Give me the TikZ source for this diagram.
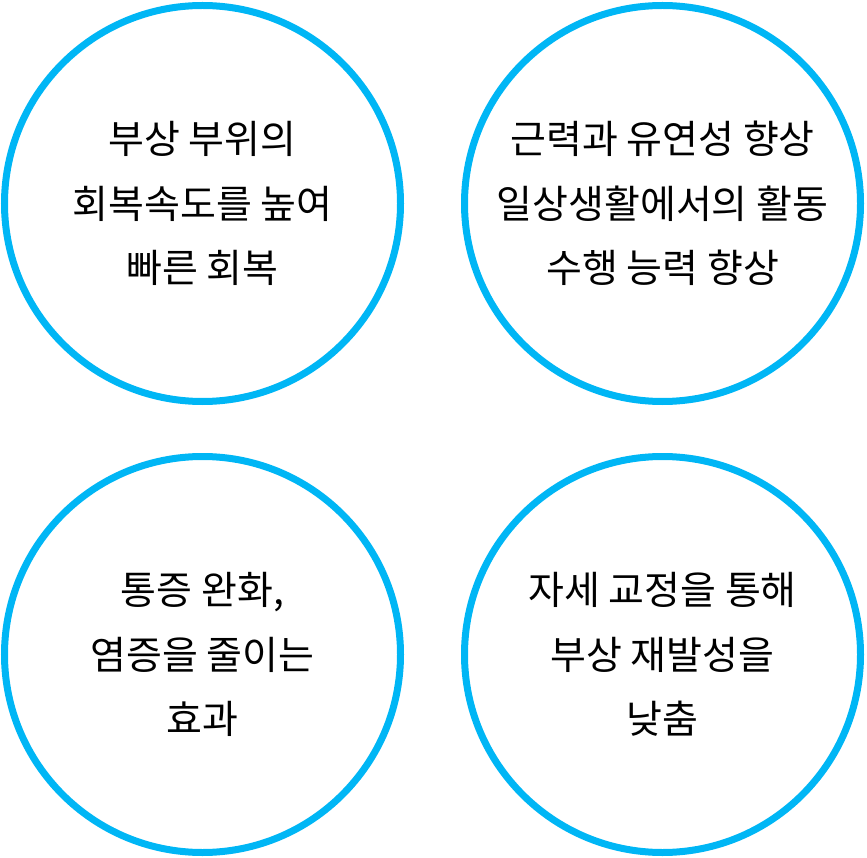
\documentclass[tikz,border=0pt]{standalone}
\usepackage{fontspec}
\setmainfont{Noto Sans CJK KR}
\definecolor{bolha}{RGB}{0,182,245}

\begin{document}
\begin{tikzpicture}[
    x=1pt, y=-1pt,
    font=\fontsize{39}{64.5}\selectfont,
    bolha/.style={circle, draw=bolha, line width=7pt, minimum size=396pt, inner sep=0, align=center, text=black}
]

% ============================================
% MARGENS
% ============================================
\useasboundingbox (0,0) rectangle (867,858);

% ============================================
% FILA SUPERIOR
% ============================================

% Círculo 1: recuperação
\node[bolha] (recuperacao) at (202.5, 203.5) {부상 부위의\\회복속도를 높여\\빠른 회복};

% Círculo 2: força e flexibilidade
\node[bolha] (forca) at (662.5, 203.5) {근력과 유연성 향상\\일상생활에서의 활동\\수행 능력 향상};

% ============================================
% FILA INFERIOR
% ============================================

% Círculo 3: dor e inflamação
\node[bolha] (dor) at (202.5, 654.5) {통증 완화,\\염증을 줄이는\\효과};

% Círculo 4: postura
\node[bolha] (postura) at (662.5, 654.5) {자세 교정을 통해\\부상 재발성을\\낮춤};

\end{tikzpicture}
\end{document}
